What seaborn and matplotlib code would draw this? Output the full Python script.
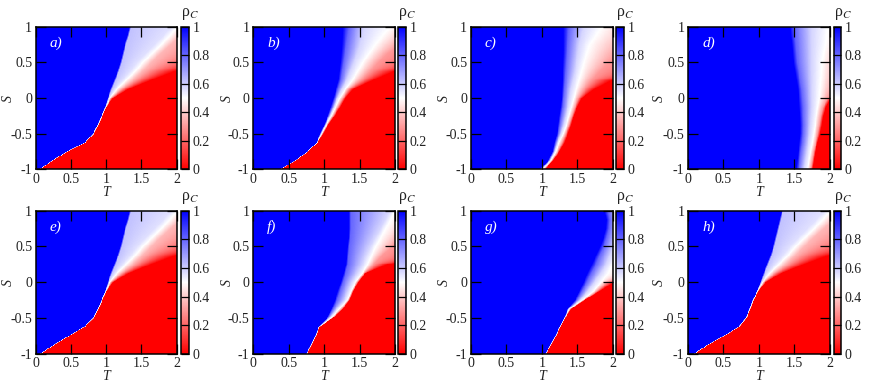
import numpy as np
import pandas as pd
import matplotlib
matplotlib.use("Agg")
import matplotlib.pyplot as plt
from matplotlib.colors import LinearSegmentedColormap
import seaborn as sns

S_ROWS = [-1, -.875, -.75, -.625, -.5, -.375, -.25, -.125, 0, .125, .25, .375, .5, .625, .75, .875, 1]
# density levels of the six columns in each row (a single value = all coincide)
RHO_LEVELS = [1, .8, .58, .5, .3, 0]
RHO_LEVELS_PLATEAU = [1, .62, .56, .5, .36, 0]

PANEL_A = [[.05], [.23], [.44], [.69], [.81], [.875], [.93], [.985],
           [1.02, 1.03, 1.035, 1.04, 1.05, 1.08],
           [1.06, 1.08, 1.11, 1.14, 1.19, 1.30],
           [1.11, 1.13, 1.22, 1.27, 1.36, 1.62],
           [1.16, 1.18, 1.33, 1.40, 1.50, 1.96],
           [1.20, 1.22, 1.43, 1.51, 1.63, 2.6],
           [1.23, 1.25, 1.55, 1.64, 1.76, 3.2],
           [1.26, 1.28, 1.68, 1.77, 1.90, 3.6],
           [1.30, 1.32, 1.80, 1.89, 2.05, 4.0],
           [1.33, 1.35, 1.92, 2.00, 2.20, 5.0]]
PANEL_B = [[.38], [.59], [.76], [.89],
           [.94, .945, .95, .955, .96, .97],
           [1.00, 1.005, 1.01, 1.02, 1.03, 1.04],
           [1.05, 1.06, 1.075, 1.09, 1.11, 1.13],
           [1.09, 1.11, 1.13, 1.15, 1.18, 1.21],
           [1.13, 1.15, 1.18, 1.21, 1.25, 1.28],
           [1.165, 1.19, 1.24, 1.29, 1.33, 1.39],
           [1.20, 1.23, 1.31, 1.385, 1.50, 1.67],
           [1.215, 1.25, 1.36, 1.46, 1.63, 1.97],
           [1.23, 1.27, 1.41, 1.53, 1.75, 2.8],
           [1.24, 1.29, 1.46, 1.62, 1.88, 3.4],
           [1.25, 1.31, 1.50, 1.71, 2.05, 4.0],
           [1.255, 1.33, 1.53, 1.81, 2.25, 4.5],
           [1.26, 1.35, 1.55, 1.92, 2.40, 5.0]]
PANEL_C = [[.97, .98, .99, 1.0, 1.02, 1.03],
           [1.09, 1.10, 1.11, 1.12, 1.13, 1.14],
           [1.15, 1.16, 1.17, 1.185, 1.21, 1.23],
           [1.175, 1.19, 1.21, 1.23, 1.27, 1.30],
           [1.21, 1.23, 1.26, 1.29, 1.32, 1.35],
           [1.23, 1.25, 1.30, 1.335, 1.37, 1.395],
           [1.245, 1.27, 1.33, 1.37, 1.41, 1.43],
           [1.265, 1.29, 1.36, 1.405, 1.45, 1.48],
           [1.28, 1.30, 1.38, 1.44, 1.50, 1.545],
           [1.285, 1.31, 1.40, 1.475, 1.58, 1.72],
           [1.29, 1.32, 1.43, 1.51, 1.68, 1.97],
           [1.29, 1.33, 1.46, 1.545, 1.80, 3.0],
           [1.295, 1.34, 1.48, 1.58, 1.93, 3.5],
           [1.30, 1.35, 1.50, 1.62, 2.05, 4.0],
           [1.30, 1.36, 1.52, 1.66, 2.20, 4.5],
           [1.30, 1.37, 1.55, 1.75, 2.35, 5.0],
           [1.30, 1.38, 1.58, 1.83, 2.50, 5.0]]
PANEL_D = [[1.525, 1.56, 1.63, 1.68, 1.72, 1.74],
           [1.54, 1.575, 1.65, 1.70, 1.74, 1.76],
           [1.555, 1.59, 1.67, 1.72, 1.76, 1.78],
           [1.57, 1.61, 1.69, 1.745, 1.79, 1.81],
           [1.585, 1.62, 1.71, 1.765, 1.815, 1.845],
           [1.585, 1.625, 1.72, 1.785, 1.84, 1.87],
           [1.58, 1.62, 1.73, 1.80, 1.86, 1.89],
           [1.57, 1.62, 1.74, 1.82, 1.89, 1.93],
           [1.56, 1.61, 1.74, 1.84, 1.96, 2.0],
           [1.55, 1.60, 1.74, 1.85, 2.03, 2.5],
           [1.53, 1.58, 1.74, 1.86, 2.08, 3.0],
           [1.51, 1.56, 1.74, 1.87, 2.12, 3.5],
           [1.49, 1.54, 1.74, 1.88, 2.16, 4.0],
           [1.48, 1.53, 1.74, 1.90, 2.2, 4.5],
           [1.47, 1.52, 1.74, 1.93, 2.3, 5.0],
           [1.455, 1.51, 1.74, 1.95, 2.4, 5.0],
           [1.445, 1.50, 1.74, 1.97, 2.5, 5.0]]
PANEL_E = [[.06], [.25], [.465], [.68], [.81], [.875], [.93], [.985],
           [1.02, 1.03, 1.035, 1.04, 1.05, 1.08],
           [1.06, 1.08, 1.11, 1.14, 1.19, 1.30],
           [1.11, 1.13, 1.22, 1.27, 1.36, 1.62],
           [1.16, 1.18, 1.33, 1.40, 1.50, 1.97],
           [1.20, 1.22, 1.43, 1.51, 1.63, 2.6],
           [1.23, 1.25, 1.55, 1.64, 1.76, 3.2],
           [1.26, 1.28, 1.68, 1.77, 1.90, 3.6],
           [1.30, 1.32, 1.80, 1.89, 2.05, 4.0],
           [1.33, 1.35, 1.92, 2.00, 2.20, 5.0]]
PANEL_F = [[.745], [.81], [.87], [.92],
           [1.04, 1.05, 1.07, 1.09, 1.10, 1.105],
           [1.10, 1.12, 1.17, 1.20, 1.23, 1.245],
           [1.15, 1.18, 1.28, 1.32, 1.33, 1.34],
           [1.19, 1.22, 1.33, 1.37, 1.38, 1.39],
           [1.235, 1.26, 1.38, 1.43, 1.45, 1.465],
           [1.27, 1.30, 1.46, 1.525, 1.545, 1.56],
           [1.31, 1.33, 1.53, 1.60, 1.68, 1.87],
           [1.32, 1.34, 1.58, 1.655, 1.80, 3.0],
           [1.33, 1.35, 1.64, 1.715, 1.95, 3.5],
           [1.345, 1.365, 1.71, 1.785, 2.1, 4.0],
           [1.35, 1.37, 1.78, 1.855, 2.25, 4.5],
           [1.35, 1.37, 1.85, 1.92, 2.4, 5.0],
           [1.35, 1.37, 1.91, 1.985, 2.5, 5.0]]
PANEL_G = [[1.045], [1.115], [1.185], [1.245], [1.31],
           [1.36, 1.365, 1.37, 1.375, 1.385, 1.395],
           [1.465, 1.49, 1.53, 1.56, 1.575, 1.585],
           [1.525, 1.56, 1.64, 1.715, 1.76, 1.795],
           [1.585, 1.63, 1.73, 1.82, 1.90, 2.0],
           [1.64, 1.69, 1.82, 1.92, 2.30, 2.8],
           [1.70, 1.76, 1.90, 1.98, 2.40, 3.0],
           [1.76, 1.81, 1.95, 2.10, 2.6, 3.5],
           [1.82, 1.87, 2.00, 2.20, 2.8, 4.0],
           [1.865, 1.91, 2.03, 2.3, 3.0, 4.5],
           [1.90, 1.94, 2.05, 2.4, 3.2, 5.0],
           [1.91, 1.95, 2.06, 2.5, 3.4, 5.0],
           [1.88, 1.93, 2.05, 2.5, 3.4, 5.0]]
PANEL_H = [[.08], [.27], [.50], [.71], [.81], [.865], [.91], [.975],
           [1.02, 1.03, 1.035, 1.04, 1.05, 1.08],
           [1.06, 1.08, 1.11, 1.14, 1.19, 1.30],
           [1.11, 1.13, 1.22, 1.27, 1.36, 1.62],
           [1.16, 1.18, 1.33, 1.40, 1.50, 1.97],
           [1.20, 1.22, 1.43, 1.51, 1.63, 2.6],
           [1.23, 1.25, 1.55, 1.64, 1.76, 3.2],
           [1.26, 1.28, 1.68, 1.77, 1.90, 3.6],
           [1.29, 1.31, 1.80, 1.89, 2.05, 4.0],
           [1.32, 1.34, 1.92, 2.00, 2.20, 5.0]]

PANELS = [("a)", PANEL_A, RHO_LEVELS_PLATEAU), ("b)", PANEL_B, RHO_LEVELS),
          ("c)", PANEL_C, RHO_LEVELS), ("d)", PANEL_D, RHO_LEVELS),
          ("e)", PANEL_E, RHO_LEVELS_PLATEAU), ("f)", PANEL_F, RHO_LEVELS),
          ("g)", PANEL_G, RHO_LEVELS), ("h)", PANEL_H, RHO_LEVELS_PLATEAU)]
X_TICKS = [0, .5, 1, 1.5, 2]
X_LABELS = ["0", "0.5", "1", "1.5", "2"]
Y_TICKS = [-1, -.5, 0, .5, 1]
Y_LABELS = ["-1", "-0.5", "0", "0.5", "1"]
CB_TICKS = [0, .2, .4, .6, .8, 1]
CB_LABELS = ["0", "0.2", "0.4", "0.6", "0.8", "1"]

W, H = 872, 389
sns.set_theme(style="ticks", font="Liberation Serif")
plt.rcParams["mathtext.fontset"] = "stix"
cmap = LinearSegmentedColormap.from_list("rwb", [(1, 0, 0), (1, 1, 1), (0, 0, 1)], N=256)

X_BOX = [(35.7, 176.7, 181, 189), (253, 395.3, 398.3, 406),
         (470.7, 613, 616.3, 624), (688, 829.7, 833.7, 841.3)]
Y_BOX = [(26.7, 169.3), (210.7, 353.7)]
S_LABEL_X = [8.5, 227, 444, 659]
N_GRID = 300
T_GRID = (np.arange(N_GRID) + .5) / N_GRID * 2
S_GRID = 1 - (np.arange(N_GRID) + .5) / N_GRID * 2


def density_table(rows, levels):
    full = np.array([r * 6 if len(r) == 1 else r for r in rows], float)
    full = full + np.arange(6) * .004
    crossings = np.column_stack([np.interp(S_GRID, S_ROWS, full[:, k]) for k in range(6)])
    values = np.array([np.interp(T_GRID, c, levels) for c in crossings])
    return pd.DataFrame(values, index=S_GRID, columns=T_GRID)


fig = plt.figure(figsize=(W / 100, H / 100), dpi=100)
FS = 10
for i, (tag, rows, levels) in enumerate(PANELS):
    x0, x1, c0, c1 = X_BOX[i % 4]
    y0, y1 = Y_BOX[i // 4]
    ax = fig.add_axes([x0 / W, 1 - y1 / H, (x1 - x0) / W, (y1 - y0) / H])
    cax = fig.add_axes([c0 / W, 1 - y1 / H, (c1 - c0) / W, (y1 - y0) / H])
    sns.heatmap(density_table(rows, levels), ax=ax, cbar_ax=cax, cmap=cmap, vmin=0, vmax=1,
                xticklabels=False, yticklabels=False, rasterized=True,
                cbar_kws={"ticks": CB_TICKS})
    ax.set_axisbelow(False)
    cax.set_axisbelow(False)
    for s in ax.spines.values():
        s.set_visible(True)
        s.set_color("black")
        s.set_linewidth(1.1)
    ax.set_xticks([t / 2 * N_GRID for t in X_TICKS], X_LABELS)
    ax.set_yticks([(1 - s) / 2 * N_GRID for s in Y_TICKS], Y_LABELS, rotation=0)
    ax.tick_params(axis="both", direction="in", length=7.5, width=.9, top=True, right=True,
                   labelsize=FS, pad=2.5, colors="black", labelcolor="#222222")
    ax.set_xlabel("T", style="italic", fontsize=FS, color="#222222", va="center")
    ax.set_ylabel("S", style="italic", fontsize=FS, color="#222222", va="center")
    ax.xaxis.set_label_coords(.5, -23 / (y1 - y0))
    ax.yaxis.set_label_coords((S_LABEL_X[i % 4] - x0) / (x1 - x0), .5)
    ax.text(.10, .885, tag, transform=ax.transAxes, color="white", style="italic",
            fontsize=11, ha="left", va="center")
    cb = ax.collections[0].colorbar
    cb.outline.set_visible(True)
    cb.outline.set_edgecolor("black")
    cb.outline.set_linewidth(1.1)
    cb.set_ticklabels(CB_LABELS)
    cax.tick_params(direction="in", length=5.8, width=.9, labelsize=FS, pad=2.5,
                    colors="black", labelcolor="#222222")
    cax.text(0, 1.03, r"ρ$_{C}$", transform=cax.transAxes, fontsize=11.5, ha="left",
             va="bottom", color="#222222")

fig.savefig("out.png", dpi=100)
